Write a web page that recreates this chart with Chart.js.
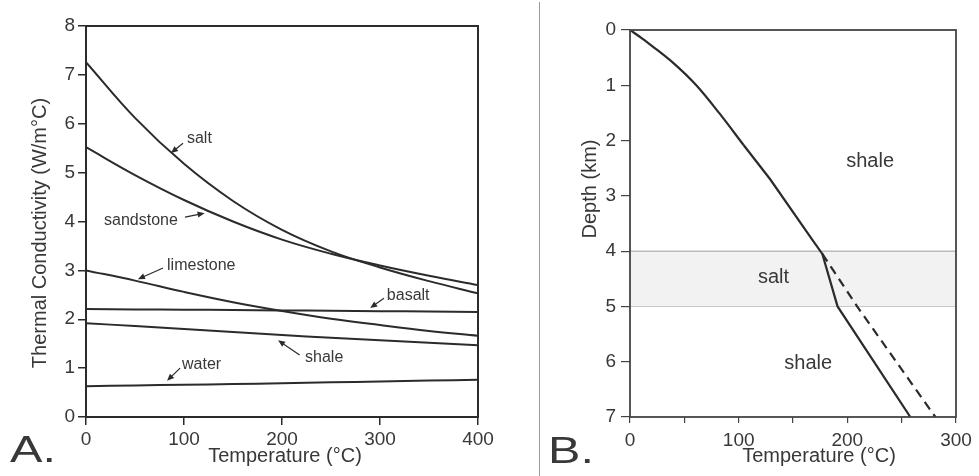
<!DOCTYPE html>
<html>
<head>
<meta charset="utf-8">
<script src="https://cdn.jsdelivr.net/npm/chart.js@4.4.1/dist/chart.umd.min.js"></script>
<style>
  html, body { margin: 0; padding: 0; background: #ffffff; }
  body { width: 979px; height: 476px; position: relative; overflow: hidden; }
  #cA { position: absolute; left: 0; top: 0; }
  #cB { position: absolute; left: 540px; top: 0; }
  #sep { position: absolute; left: 539px; top: 2px; width: 1px; height: 474px; background: #9a9a9a; }
</style>
</head>
<body>
<canvas id="cA" width="540" height="476"></canvas>
<div id="sep"></div>
<canvas id="cB" width="439" height="476"></canvas>
<script>
// ---------- Panel A data ----------
const tempsA     = [0, 50, 100, 150, 200, 250, 300, 350, 400];
const salt       = [7.26, 6.12, 5.18, 4.42, 3.83, 3.39, 3.06, 2.78, 2.53];
const sandstone  = [5.52, 4.95, 4.44, 4.00, 3.63, 3.34, 3.10, 2.89, 2.70];
const limestone  = [3.00, 2.79, 2.56, 2.35, 2.17, 2.01, 1.88, 1.76, 1.66];
const basalt     = [2.21, 2.20, 2.195, 2.19, 2.18, 2.175, 2.165, 2.16, 2.15];
const shale      = [1.92, 1.86, 1.80, 1.74, 1.68, 1.62, 1.57, 1.52, 1.47];
const water      = [0.63, 0.645, 0.66, 0.675, 0.69, 0.71, 0.725, 0.745, 0.76];
const ticksTempA = [0, 100, 200, 300, 400];
const ticksK     = [0, 1, 2, 3, 4, 5, 6, 7, 8];

// annotations (data units)
const labelNames = ['salt', 'sandstone', 'limestone', 'basalt', 'shale', 'water'];
const labelT     = [103, 18.4, 82.7, 307, 223.5, 98];
const labelK     = [5.69, 4.01, 3.09, 2.49, 1.21, 1.08];
const arrowFromT = [99, 101, 78.6, 304, 218, 96];
const arrowFromK = [5.60, 4.09, 3.05, 2.43, 1.27, 1.00];
const arrowToT   = [86.7, 121, 53, 290, 196, 82.7];
const arrowToK   = [5.40, 4.17, 2.82, 2.23, 1.57, 0.74];

// ---------- Panel B data ----------
const depthUpper = [0, 0.15, 0.3, 0.6, 1.0, 1.5, 2.08];
const tempUpper  = [0, 11, 21, 40, 61, 82, 104.5];
const depthLower = [2.08, 2.7, 3.8, 4.05, 5.0, 7.0];
const tempLower  = [104.5, 129, 168, 177, 191, 258];
const depthDash  = [4.05, 5.0, 7.0];
const tempDash   = [177, 209, 281];
const saltTop = 4, saltBase = 5;
const ticksTempB = [0, 100, 200, 300];
const ticksDepth = [0, 1, 2, 3, 4, 5, 6, 7];
const layerNames = ['shale', 'salt', 'shale'];
const layerT     = [221, 132, 164];
const layerD     = [2.37, 4.47, 6.03];

const FONT = '"Liberation Sans", Arial, Helvetica, sans-serif';
const INK = '#2b2b2b';
const TXT = '#383838';

function framePlugin(lw, color) {
  return {
    id: 'frame',
    afterDatasetsDraw(chart) {
      const a = chart.chartArea, ctx = chart.ctx;
      ctx.save();
      ctx.strokeStyle = color; ctx.lineWidth = lw;
      ctx.strokeRect(a.left, a.top, a.right - a.left, a.bottom - a.top);
      ctx.restore();
    }
  };
}

function textPlugin(items) {
  return {
    id: 'texts',
    afterDraw(chart) {
      const ctx = chart.ctx;
      ctx.save();
      ctx.fillStyle = TXT;
      items.forEach(it => {
        ctx.save();
        ctx.font = it.font;
        ctx.textAlign = it.align || 'center';
        ctx.textBaseline = it.baseline || 'middle';
        ctx.translate(it.x, it.y);
        if (it.rot) ctx.rotate(it.rot);
        if (it.sx) ctx.scale(it.sx, 1);
        ctx.fillText(it.t, 0, 0);
        ctx.restore();
      });
      ctx.restore();
    }
  };
}

function ser(xs, ys) { return xs.map((x, i) => ({ x: x, y: ys[i] })); }

// ---------- Chart A ----------
const annotPlugin = {
  id: 'annot',
  afterDatasetsDraw(chart) {
    const ctx = chart.ctx, sx = chart.scales.x, sy = chart.scales.y;
    ctx.save();
    ctx.fillStyle = TXT; ctx.strokeStyle = INK;
    ctx.font = '16px ' + FONT;
    ctx.textAlign = 'left'; ctx.textBaseline = 'middle';
    labelNames.forEach((n, i) => {
      ctx.fillText(n, sx.getPixelForValue(labelT[i]), sy.getPixelForValue(labelK[i]));
      const x1 = sx.getPixelForValue(arrowFromT[i]), y1 = sy.getPixelForValue(arrowFromK[i]);
      const x2 = sx.getPixelForValue(arrowToT[i]),   y2 = sy.getPixelForValue(arrowToK[i]);
      const ang = Math.atan2(y2 - y1, x2 - x1);
      const L = 7, W = 3;
      ctx.lineWidth = 1.2;
      ctx.beginPath();
      ctx.moveTo(x1, y1);
      ctx.lineTo(x2 - Math.cos(ang) * (L - 1), y2 - Math.sin(ang) * (L - 1));
      ctx.stroke();
      ctx.beginPath();
      ctx.moveTo(x2, y2);
      ctx.lineTo(x2 - Math.cos(ang) * L - Math.sin(ang) * W, y2 - Math.sin(ang) * L + Math.cos(ang) * W);
      ctx.lineTo(x2 - Math.cos(ang) * L + Math.sin(ang) * W, y2 - Math.sin(ang) * L - Math.cos(ang) * W);
      ctx.closePath();
      ctx.fillStyle = INK;
      ctx.fill();
      ctx.fillStyle = TXT;
    });
    ctx.restore();
  }
};

const lineStyle = { borderColor: INK, borderWidth: 2, pointRadius: 0, fill: false, tension: 0.4 };

new Chart(document.getElementById('cA'), {
  type: 'line',
  data: {
    datasets: [
      Object.assign({ label: 'salt', data: ser(tempsA, salt) }, lineStyle),
      Object.assign({ label: 'sandstone', data: ser(tempsA, sandstone) }, lineStyle),
      Object.assign({ label: 'limestone', data: ser(tempsA, limestone) }, lineStyle),
      Object.assign({ label: 'basalt', data: ser(tempsA, basalt) }, lineStyle),
      Object.assign({ label: 'shale', data: ser(tempsA, shale) }, lineStyle),
      Object.assign({ label: 'water', data: ser(tempsA, water) }, lineStyle)
    ]
  },
  options: {
    responsive: false, animation: false, devicePixelRatio: 1,
    layout: { padding: { left: 0, top: 26, right: 62, bottom: 0 } },
    plugins: { legend: { display: false }, tooltip: { enabled: false } },
    scales: {
      x: {
        type: 'linear', min: 0, max: 400,
        afterFit(s) { s.height = 59; },
        afterBuildTicks(s) { s.ticks = ticksTempA.map(v => ({ value: v })); },
        ticks: { font: { size: 19, family: FONT }, color: TXT, padding: 3, maxRotation: 0 },
        grid: { drawOnChartArea: false, drawTicks: true, tickLength: 8, color: INK, lineWidth: 1.5 },
        border: { display: false }
      },
      y: {
        type: 'linear', min: 0, max: 8,
        afterFit(s) { s.width = 86; },
        afterBuildTicks(s) { s.ticks = ticksK.map(v => ({ value: v })); },
        ticks: { font: { size: 19, family: FONT }, color: TXT, padding: 3 },
        grid: { drawOnChartArea: false, drawTicks: true, tickLength: 8, color: INK, lineWidth: 1.5 },
        border: { display: false }
      }
    }
  },
  plugins: [framePlugin(2, INK), annotPlugin, textPlugin([
    { t: 'Temperature (\u00B0C)', x: 285, y: 456, font: '20px ' + FONT },
    { t: 'Thermal Conductivity (W/m\u00B0C)', x: 40, y: 233, rot: -Math.PI / 2, font: '20px ' + FONT },
    { t: 'A.', x: 10, y: 462, font: '36px ' + FONT, align: 'left', baseline: 'alphabetic', sx: 1.35 }
  ])]
});

// ---------- Chart B ----------
const layerPlugin = {
  id: 'layers',
  afterDatasetsDraw(chart) {
    const ctx = chart.ctx, sx = chart.scales.x, sy = chart.scales.y;
    ctx.save();
    ctx.fillStyle = TXT;
    ctx.font = '20px ' + FONT;
    ctx.textAlign = 'center'; ctx.textBaseline = 'middle';
    layerNames.forEach((n, i) => ctx.fillText(n, sx.getPixelForValue(layerT[i]), sy.getPixelForValue(layerD[i])));
    ctx.restore();
  }
};

new Chart(document.getElementById('cB'), {
  type: 'line',
  data: {
    datasets: [
      { label: 'salt top', data: [{ x: 0, y: saltTop }, { x: 300, y: saltTop }], borderColor: '#9a9a9a', borderWidth: 1, pointRadius: 0, fill: '+1', backgroundColor: '#f2f2f2', order: 10 },
      { label: 'salt base', data: [{ x: 0, y: saltBase }, { x: 300, y: saltBase }], borderColor: '#9a9a9a', borderWidth: 1, pointRadius: 0, fill: false, order: 10 },
      { label: 'geotherm upper', data: ser(tempUpper, depthUpper), borderColor: INK, borderWidth: 2.2, pointRadius: 0, fill: false, cubicInterpolationMode: 'monotone', order: 1 },
      { label: 'geotherm lower', data: ser(tempLower, depthLower), borderColor: INK, borderWidth: 2.2, pointRadius: 0, fill: false, tension: 0, order: 1 },
      { label: 'no salt', data: ser(tempDash, depthDash), borderColor: INK, borderWidth: 2.2, borderDash: [9, 6], pointRadius: 0, fill: false, tension: 0, order: 1 }
    ]
  },
  options: {
    responsive: false, animation: false, devicePixelRatio: 1,
    layout: { padding: { left: 0, top: 30, right: 23, bottom: 0 } },
    plugins: { legend: { display: false }, tooltip: { enabled: false }, filler: { propagate: false } },
    scales: {
      x: {
        type: 'linear', min: 0, max: 300,
        afterFit(s) { s.height = 59; },
        ticks: { stepSize: 50, font: { size: 19, family: FONT }, color: TXT, padding: 6, maxRotation: 0, autoSkip: false,
                 callback: v => (ticksTempB.includes(v) ? String(v) : '') },
        grid: { drawOnChartArea: false, drawTicks: true, tickLength: 6, color: '#444', lineWidth: 1.2 },
        border: { display: false }
      },
      y: {
        type: 'linear', min: 0, max: 7, reverse: true,
        afterFit(s) { s.width = 90; },
        afterBuildTicks(s) { s.ticks = ticksDepth.map(v => ({ value: v })); },
        ticks: { font: { size: 19, family: FONT }, color: TXT, padding: 5 },
        grid: { drawOnChartArea: false, drawTicks: true, tickLength: 9, color: '#444', lineWidth: 1.2 },
        border: { display: false }
      }
    }
  },
  plugins: [framePlugin(1.8, '#444'), layerPlugin, textPlugin([
    { t: 'Temperature (\u00B0C)', x: 279, y: 456, font: '20px ' + FONT },
    { t: 'Depth (km)', x: 50, y: 189, rot: -Math.PI / 2, font: '20px ' + FONT },
    { t: 'B.', x: 8, y: 463, font: '36px ' + FONT, align: 'left', baseline: 'alphabetic', sx: 1.35 }
  ])]
});
</script>
</body>
</html>
